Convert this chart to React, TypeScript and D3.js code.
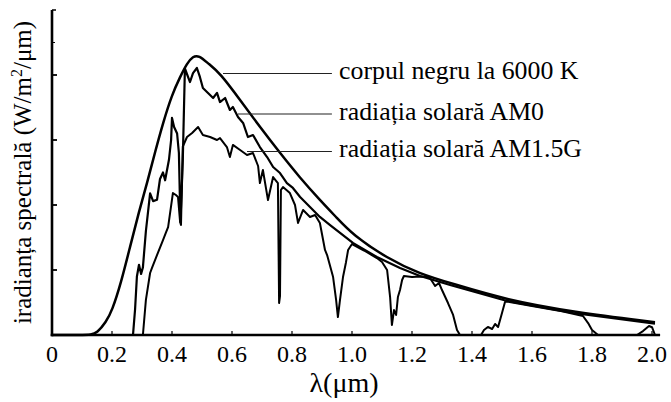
import React from "react";
import * as d3 from "d3";

// ---- data (wavelength in µm, spectral irradiance in W/m²/µm) ----
const blackBody6000K: [number, number][] = [
  [0, 0], [0.1, 0], [0.13, 2], [0.15, 15], [0.18, 100], [0.2, 185], [0.23, 400],
  [0.26, 677], [0.29, 950], [0.317, 1169], [0.345, 1420], [0.37, 1631], [0.4, 1850],
  [0.427, 1985], [0.45, 2090], [0.47, 2145], [0.49, 2150], [0.52, 2090], [0.56, 2015],
  [0.627, 1808], [0.693, 1600], [0.76, 1400], [0.827, 1208], [0.893, 1038], [0.95, 900],
  [1.003, 770], [1.117, 590], [1.227, 470], [1.327, 400], [1.517, 269], [1.737, 177],
  [2.01, 98],
];

const solarAM0: [number, number][] = [
  [0, 0], [0.27, 0], [0.277, 200], [0.283, 450], [0.29, 540], [0.297, 470], [0.303, 520],
  [0.313, 800], [0.327, 1090], [0.337, 1030], [0.35, 1040], [0.36, 1200], [0.37, 1250],
  [0.377, 1190], [0.39, 1350], [0.397, 1500], [0.4, 1670], [0.407, 1600], [0.417, 1550],
  [0.423, 1400], [0.428, 870], [0.432, 1100], [0.436, 1350], [0.443, 2050], [0.46, 1946],
  [0.47, 2015], [0.483, 2054], [0.493, 1985], [0.503, 1900], [0.52, 1862], [0.537, 1823],
  [0.55, 1862], [0.56, 1792], [0.577, 1823], [0.593, 1731], [0.603, 1754], [0.62, 1677],
  [0.637, 1631], [0.653, 1523], [0.67, 1538], [0.693, 1446], [0.717, 1369], [0.737, 1292],
  [0.76, 1246], [0.783, 1169], [0.803, 1131], [0.827, 1062], [0.86, 985], [0.893, 908],
  [0.927, 846], [1.003, 708], [1.083, 600], [1.16, 515], [1.227, 454], [1.327, 385],
  [1.517, 262], [1.737, 169], [2.01, 88],
];

const solarAM15G: [number, number][] = [
  [0, 0], [0.303, 0], [0.313, 270], [0.327, 477], [0.333, 515], [0.35, 615], [0.37, 730],
  [0.38, 790], [0.387, 830], [0.403, 1092], [0.413, 1077], [0.42, 1062], [0.427, 870],
  [0.43, 846], [0.436, 1450], [0.45, 1523], [0.467, 1554], [0.487, 1600], [0.503, 1538],
  [0.527, 1523], [0.55, 1500], [0.56, 1515], [0.583, 1446], [0.593, 1369], [0.603, 1462],
  [0.627, 1423], [0.65, 1385], [0.67, 1400], [0.687, 1300], [0.693, 1169], [0.703, 1269],
  [0.72, 1038], [0.737, 1215], [0.753, 1169], [0.757, 246], [0.76, 300], [0.763, 1115],
  [0.77, 1138], [0.793, 1092], [0.81, 1000], [0.82, 862], [0.837, 962], [0.86, 908],
  [0.877, 923], [0.893, 862], [0.91, 654], [0.917, 615], [0.937, 446], [0.947, 270],
  [0.953, 138], [0.96, 270], [0.97, 446], [0.98, 560], [0.987, 654], [1.0, 700],
  [1.04, 650], [1.083, 592], [1.1, 562], [1.117, 500], [1.127, 292], [1.133, 77],
  [1.14, 192], [1.147, 154], [1.153, 292], [1.16, 346], [1.167, 423], [1.173, 454],
  [1.2, 446], [1.227, 450], [1.25, 446], [1.26, 438], [1.277, 377], [1.29, 400],
  [1.3, 346], [1.32, 246], [1.337, 154], [1.35, 38], [1.36, 0], [1.43, 0], [1.44, 38],
  [1.453, 62], [1.467, 46], [1.477, 85], [1.487, 62], [1.5, 169], [1.51, 254],
  [1.517, 258], [1.6, 222], [1.7, 182], [1.77, 146], [1.787, 92], [1.8, 38], [1.82, 0],
  [1.95, 0], [1.97, 30], [1.99, 69], [2.0, 60], [2.01, 0],
];

const xTicks = [0, 0.2, 0.4, 0.6, 0.8, 1.0, 1.2, 1.4, 1.6, 1.8, 2.0];
const xTickLabels = ["0", "0.2", "0.4", "0.6", "0.8", "1.0", "1.2", "1.4", "1.6", "1.8", "2.0"];
const yMajorTicks = [500, 1000, 1500, 2000];
const yMinorTicks = [2250];

const annotationLabels = ["corpul negru la 6000 K", "radiația solară AM0", "radiația solară AM1.5G"];
const annotationStart = [0.57, 0.62, 0.65];
const annotationLevel = [2012, 1700, 1412];
const annotationEnd = 0.933;
const annotationTextX = 0.957;

const yAxisLabel = "iradianța spectrală (W/m";
const yAxisLabelTail = "/μm)";
const xAxisLabel = "λ(μm)";

const W = 671;
const H = 402;
const FONT = "'Liberation Serif', 'Times New Roman', serif";

export default function App() {
  const x = d3.scaleLinear().domain([0, 2]).range([52, 652]);
  const y = d3.scaleLinear().domain([0, 2500]).range([335, 10]);

  const line = d3
    .line<[number, number]>()
    .x((d) => x(d[0]))
    .y((d) => y(d[1]));
  const smooth = d3
    .line<[number, number]>()
    .x((d) => x(d[0]))
    .y((d) => y(d[1]))
    .curve(d3.curveBasis);

  const x0 = x(0);
  const yBase = y(0);

  return (
    <svg
      width={W}
      height={H}
      viewBox={`0 0 ${W} ${H}`}
      style={{ position: "absolute", left: 0, top: 0, background: "#fff" }}
    >
      <rect x={0} y={0} width={W} height={H} fill="#fff" />

      {/* curves */}
      <path d={smooth(blackBody6000K) || ""} fill="none" stroke="#000" strokeWidth={2.5} strokeLinejoin="round" />
      <path d={line(solarAM0) || ""} fill="none" stroke="#000" strokeWidth={2.2} strokeLinejoin="round" />
      <path d={line(solarAM15G) || ""} fill="none" stroke="#000" strokeWidth={2} strokeLinejoin="round" />

      {/* annotation leader lines and labels */}
      {annotationLabels.map((lab, i) => (
        <g key={lab}>
          <line
            x1={x(annotationStart[i])}
            x2={x(annotationEnd)}
            y1={y(annotationLevel[i])}
            y2={y(annotationLevel[i])}
            stroke="#222"
            strokeWidth={1.1}
          />
          <text
            x={x(annotationTextX)}
            y={y(annotationLevel[i]) + 5.5}
            fontFamily={FONT}
            fontSize={25.8}
            fill="#000"
          >
            {lab}
          </text>
        </g>
      ))}

      {/* axes */}
      <line x1={x0} x2={x0} y1={y(2500)} y2={yBase + 1.2} stroke="#000" strokeWidth={2.6} />
      <line x1={x0 - 1.3} x2={x(2.027)} y1={yBase} y2={yBase} stroke="#000" strokeWidth={2.6} />
      <line x1={x0} x2={x0 + 4} y1={y(2500)} y2={y(2500)} stroke="#000" strokeWidth={1.5} />
      {yMajorTicks.map((t) => (
        <line key={t} x1={x0} x2={x0 + 5} y1={y(t)} y2={y(t)} stroke="#000" strokeWidth={1.8} />
      ))}
      {yMinorTicks.map((t) => (
        <line key={t} x1={x0} x2={x0 + 3} y1={y(t)} y2={y(t)} stroke="#000" strokeWidth={1} />
      ))}
      {xTicks.map((t, i) => (
        <g key={t}>
          {i > 0 && (
            <line x1={x(t)} x2={x(t)} y1={yBase} y2={yBase - 4} stroke="#000" strokeWidth={1.2} />
          )}
          <text
            x={x(t)}
            y={362}
            textAnchor="middle"
            fontFamily={FONT}
            fontSize={24}
            fill="#000"
          >
            {xTickLabels[i]}
          </text>
        </g>
      ))}

      {/* axis titles */}
      <text
        transform={`translate(31, 172.5) rotate(-90)`}
        textAnchor="middle"
        fontFamily={FONT}
        fontSize={25}
        fill="#000"
      >
        {yAxisLabel}
        <tspan fontSize={16} dy={-9}>2</tspan>
        <tspan dy={9}>{yAxisLabelTail}</tspan>
      </text>
      <text x={344} y={392} textAnchor="middle" fontFamily={FONT} fontSize={28} fill="#000">
        {xAxisLabel}
      </text>
    </svg>
  );
}
